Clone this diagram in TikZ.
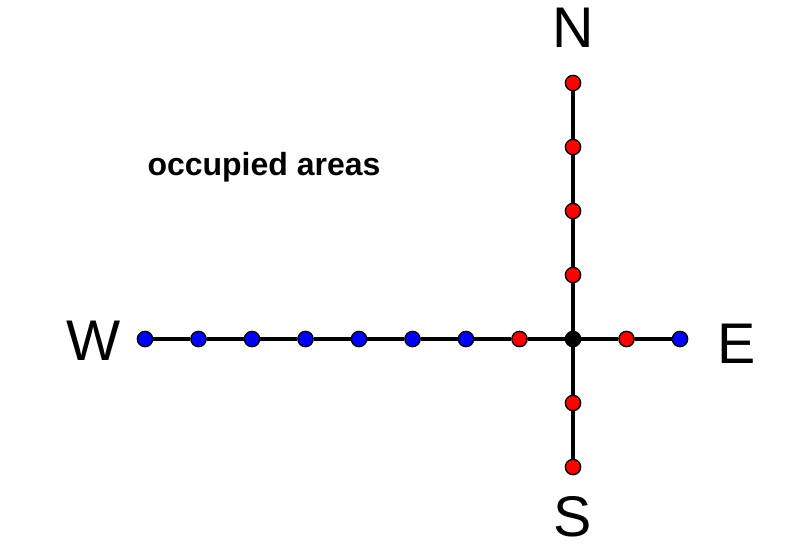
\documentclass[tikz,border=0pt]{standalone}
\usepackage{fontspec}
\setmainfont{Liberation Sans}
\usetikzlibrary{positioning}

\begin{document}
\begin{tikzpicture}[
        x=0.75pt, y=-0.75pt,
        site/.style={circle, draw=black, line width=1pt, inner sep=0pt, minimum size=11.5pt},
        freesite/.style={site, fill=blue},
        takensite/.style={site, fill=red},
        origin/.style={site, fill=black},
        arm/.style={line width=2.8pt, black},
        compass/.style={inner sep=0pt, font=\fontsize{43}{43}\selectfont}
    ]
    \useasboundingbox (0,0) rectangle (787,547);

    % centre of the cross
    \node[origin] (o) at (573,339) {};

    % west arm
    \node[freesite] (w1) at (145,339) {};
    \node[freesite] (w2) at (198.5,339) {};
    \node[freesite] (w3) at (252,339) {};
    \node[freesite] (w4) at (305.5,339) {};
    \node[freesite] (w5) at (359,339) {};
    \node[freesite] (w6) at (412.5,339) {};
    \node[freesite] (w7) at (466,339) {};
    \node[takensite] (w8) at (519.5,339) {};

    % east arm
    \node[takensite] (e1) at (626.5,339) {};
    \node[freesite] (e2) at (680,339) {};

    % north arm
    \node[takensite] (n1) at (573,275) {};
    \node[takensite] (n2) at (573,211) {};
    \node[takensite] (n3) at (573,147) {};
    \node[takensite] (n4) at (573,83) {};

    % south arm
    \node[takensite] (s1) at (573,403) {};
    \node[takensite] (s2) at (573,467) {};

    \foreach \a/\b in {w1/w2, w2/w3, w3/w4, w4/w5, w5/w6, w6/w7, w7/w8, w8/o,
                       o/e1, e1/e2, o/n1, n1/n2, n2/n3, n3/n4, o/s1, s1/s2}
        \draw[arm] (\a) -- (\b);

    \node[compass] (north) at (573,28) {N};
    \node[compass] (south) at (573,517) {S};
    \node[compass] (west) at (94,341) {W};
    \node[compass] (east) at (737,344) {E};

    \node[font=\fontsize{24}{24}\selectfont\bfseries] (label) at (264,167) {occupied areas};

\end{tikzpicture}
\end{document}
